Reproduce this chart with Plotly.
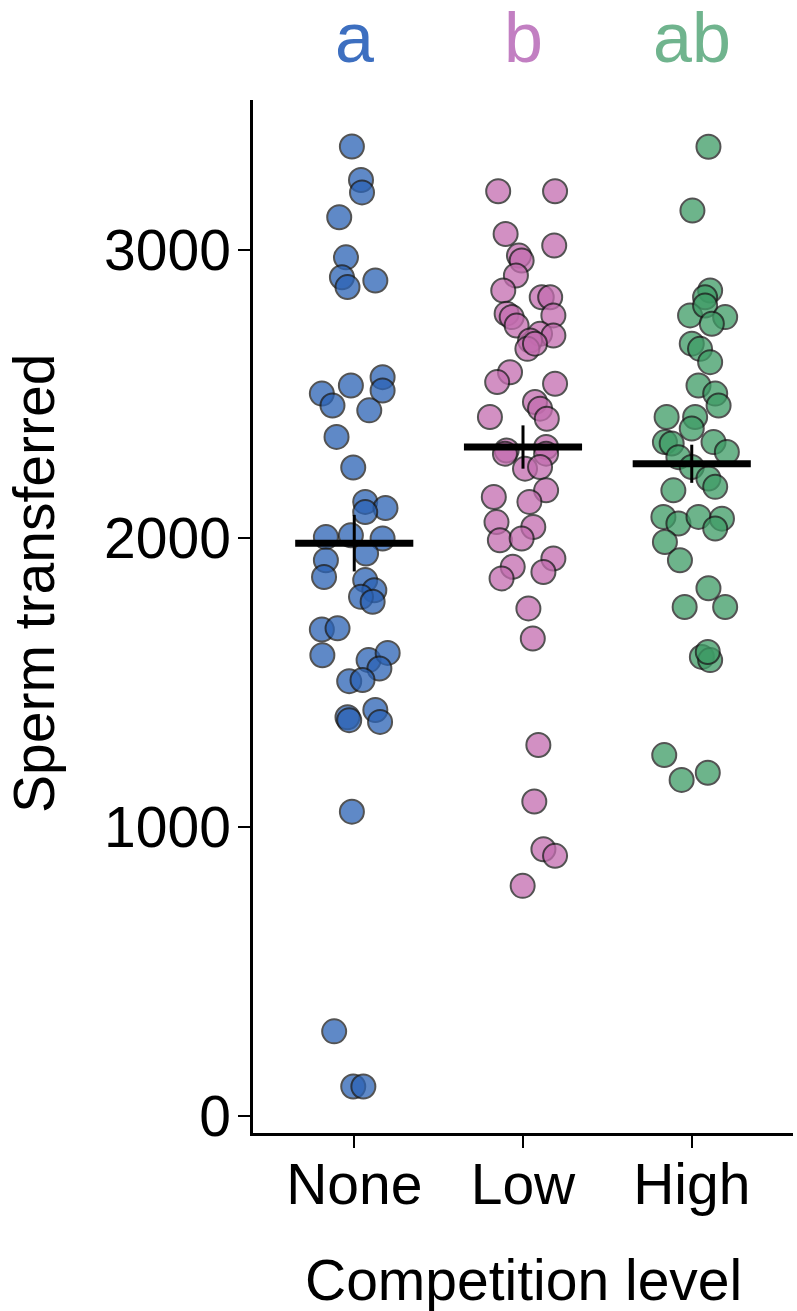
import plotly.graph_objects as go

# ---------------- data ----------------
CATEGORIES = ["None", "Low", "High"]
LETTERS = ["a", "b", "ab"]
Y_TICKS = [0, 1000, 2000, 3000]

NONE_VALUES = [3357, 3241, 3198, 3112, 2973, 2904, 2870, 2893, 2558, 2512,
               2501, 2460, 2529, 2443, 2351, 2245, 2126, 2105, 2091, 2004,
               2010, 1999, 1947, 1924, 1866, 1855, 1820, 1797, 1780, 1684,
               1688, 1595, 1578, 1603, 1549, 1505, 1509, 1380, 1370, 1405,
               1364, 1053, 292, 101, 101]
NONE_JITTER = [-0.014, 0.040, 0.046, -0.089, -0.049, -0.073, -0.040, 0.125, 0.168, 0.168,
               -0.192, -0.129, -0.020, 0.089, -0.105, -0.006, 0.065, 0.185, 0.065, -0.168,
               -0.020, 0.168, 0.070, -0.168, -0.179, 0.065, 0.119, 0.040, 0.109, -0.192,
               -0.099, -0.189, 0.085, 0.198, 0.149, -0.030, 0.049, -0.040, -0.030, 0.125,
               0.153, -0.014, -0.119, -0.006, 0.054]

LOW_VALUES = [3202, 3202, 3054, 3014, 2979, 2962, 2910, 2858, 2835, 2835,
              2778, 2766, 2772, 2737, 2708, 2702, 2685, 2656, 2674, 2575,
              2541, 2535, 2472, 2449, 2414, 2420, 2304, 2293, 2316, 2293,
              2241, 2247, 2166, 2143, 2126, 2056, 2039, 1993, 1999, 1901,
              1861, 1930, 1883, 1757, 1653, 1284, 1088, 923, 900, 796]
LOW_JITTER = [-0.147, 0.190, -0.103, 0.185, -0.024, -0.008, -0.042, -0.117, 0.111, 0.161,
              -0.097, -0.067, 0.180, -0.038, 0.101, 0.180, 0.042, 0.026, 0.071, -0.077,
              -0.153, 0.190, 0.071, 0.101, 0.141, -0.196, -0.097, -0.107, 0.137, 0.137,
              0.012, 0.101, 0.137, -0.173, 0.038, -0.157, 0.061, -0.137, -0.008, -0.061,
              -0.127, 0.180, 0.121, 0.032, 0.058, 0.091, 0.067, 0.121, 0.190, -0.002]

HIGH_VALUES = [3356, 3135, 2858, 2835, 2772, 2806, 2766, 2743, 2674, 2656,
               2610, 2529, 2501, 2460, 2420, 2420, 2380, 2333, 2328, 2333,
               2299, 2281, 2247, 2207, 2178, 2166, 2074, 2051, 2074, 2068,
               2034, 1987, 1924, 1827, 1762, 1762, 1589, 1578, 1606, 1249,
               1163, 1188]
HIGH_JITTER = [0.099, 0.004, 0.109, 0.079, -0.010, 0.079, 0.198, 0.119, 0.000, 0.049,
               0.109, 0.040, 0.139, 0.159, -0.149, 0.020, 0.000, -0.159, -0.119, 0.129,
               0.208, -0.079, 0.000, 0.099, 0.139, -0.109, -0.168, -0.079, 0.040, 0.179,
               0.139, -0.159, -0.070, 0.099, -0.042, 0.198, 0.060, 0.109, 0.095, -0.163,
               -0.060, 0.095]

MEANS = [1983, 2316, 2258]
SES = [98, 75, 66]

# ---------------- styles ----------------
FILL_COLORS = ["#2a62b5", "#c36caf", "#3d9b65"]
LETTER_COLORS = ["#3d6fc0", "#c27fc2", "#70b48e"]
FONT = "Liberation Sans, Arial, Helvetica, sans-serif"
MEAN_HALF_WIDTH = 0.35

groups = [(NONE_VALUES, NONE_JITTER), (LOW_VALUES, LOW_JITTER), (HIGH_VALUES, HIGH_JITTER)]

fig = go.Figure()

for i, (vals, jit) in enumerate(groups):
    fig.add_trace(go.Scatter(
        x=[i + j for j in jit],
        y=vals,
        mode="markers",
        marker=dict(size=24, color=FILL_COLORS[i], opacity=0.75,
                    line=dict(color="#1a1a1a", width=2)),
        showlegend=False,
        hoverinfo="skip",
    ))

for i, (m, se) in enumerate(zip(MEANS, SES)):
    fig.add_trace(go.Scatter(
        x=[i - MEAN_HALF_WIDTH, i + MEAN_HALF_WIDTH], y=[m, m],
        mode="lines", line=dict(color="black", width=7),
        showlegend=False, hoverinfo="skip",
    ))
    fig.add_trace(go.Scatter(
        x=[i, i], y=[m - se, m + se],
        mode="lines", line=dict(color="black", width=3),
        showlegend=False, hoverinfo="skip",
    ))

annotations = []
for i, (lt, col) in enumerate(zip(LETTERS, LETTER_COLORS)):
    annotations.append(dict(
        x=i, xref="x", y=(1133 - 38) / 1033, yref="paper", text=lt, showarrow=False,
        xanchor="center", yanchor="middle",
        font=dict(family=FONT, size=70, color=col),
    ))

annotations.append(dict(
    x=0.5, xref="paper", y=-0.142, yref="paper", text="Competition level",
    showarrow=False, xanchor="center", yanchor="middle",
    font=dict(family=FONT, size=57, color="black"),
))
annotations.append(dict(
    x=0, xref="paper", xshift=-219, y=(1133 - 584) / 1033, yref="paper",
    text="Sperm transferred", textangle=-90, showarrow=False,
    xanchor="center", yanchor="middle",
    font=dict(family=FONT, size=57, color="black"),
))

fig.update_layout(
    width=797, height=1311,
    margin=dict(l=253, r=4, t=100, b=178),
    paper_bgcolor="white", plot_bgcolor="white",
    font=dict(family=FONT, color="black"),
    annotations=annotations,
    xaxis=dict(
        range=[-0.6, 2.6], tickmode="array", tickvals=[0, 1, 2], ticktext=CATEGORIES,
        showgrid=False, zeroline=False, showline=True, linecolor="black", linewidth=2.5,
        ticks="outside", ticklen=12, tickwidth=2, tickcolor="black",
        tickfont=dict(family=FONT, size=57, color="black"),
        ticklabelstandoff=-12,
    ),
    yaxis=dict(
        range=[-60, 3518], tickmode="array", tickvals=Y_TICKS,
        ticktext=[str(v) for v in Y_TICKS],
        showgrid=False, zeroline=False, showline=True, linecolor="black", linewidth=2.5,
        ticks="outside", ticklen=12, tickwidth=2, tickcolor="black",
        tickfont=dict(family=FONT, size=57, color="black"),
        ticklabelstandoff=-4,
    ),
)

fig.write_html("out.html", config={"displayModeBar": False},
               post_script="document.body.style.margin='0';")
